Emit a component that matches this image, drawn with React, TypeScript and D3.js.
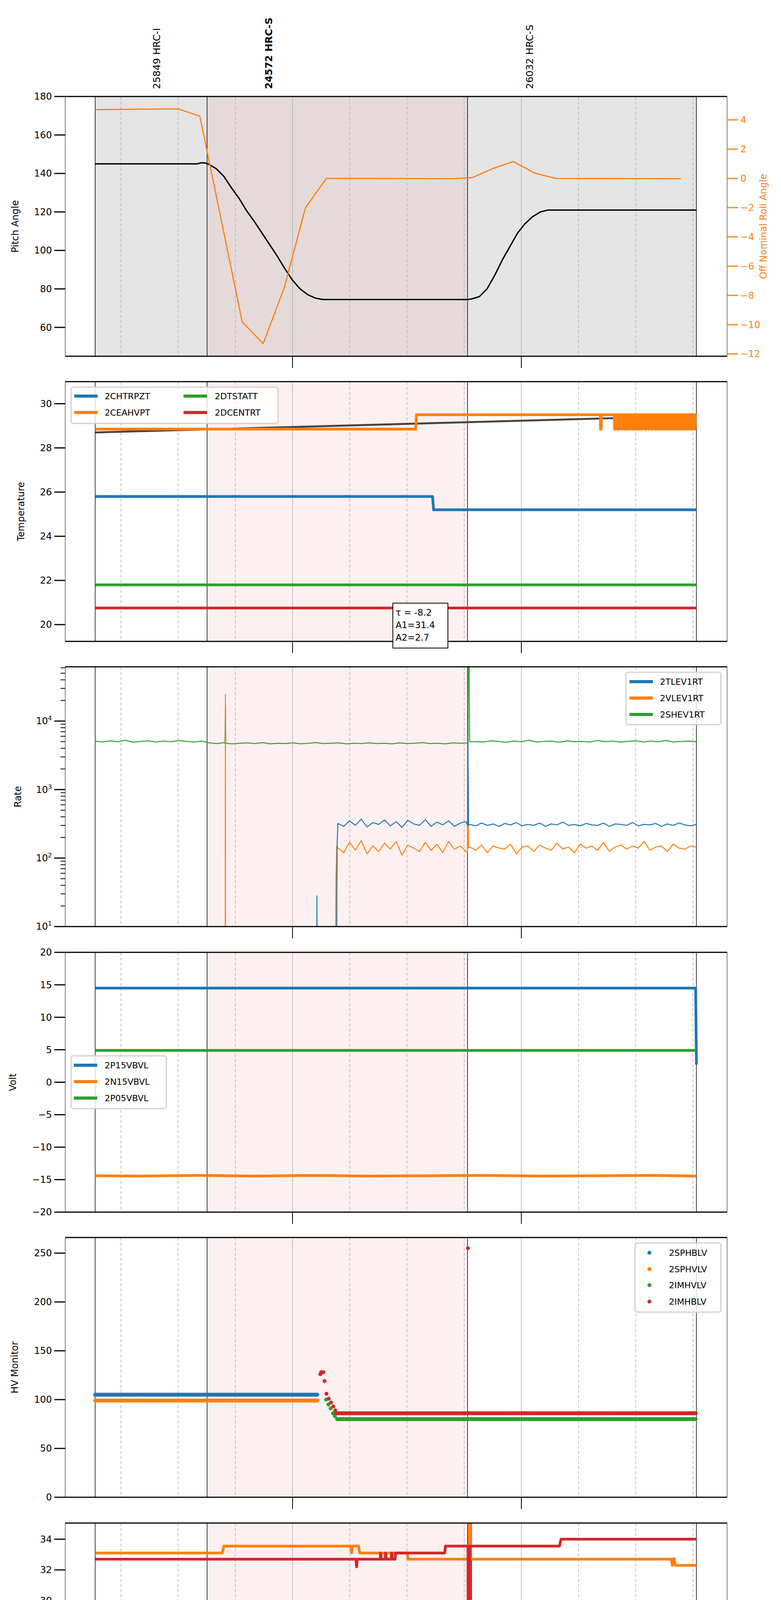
import React, { useEffect } from "react";
import * as d3 from "d3";

// time in minutes after 21:00 on 2021-12-08
const T_START = 8.25, T_SH0 = 37.6, T_SH1 = 105.9, T_END = 165.9;
const obsLabels = [
  { t: 24.4, text: "25849 HRC-I", bold: false },
  { t: 53.75, text: "24572 HRC-S", bold: true },
  { t: 122.1, text: "26032 HRC-S", bold: false },
];

// Panel 1
const pitch: [number, number][] = [[8.25,145],[35,145],[36,145.5],[37,145.5],[38,144.8],[40,142.5],[42,138.5],[44,132.5],[46,127],[48,120.5],[50,115],[52,109],[54,103],[56,97],[58,90.5],[60,84.5],[62,80],[64,77],[66,75.2],[68,74.5],[106,74.5],[107,74.8],[109,76],[111,80],[113,87],[115,95],[117,102],[119,109],[121,114],[123,117.6],[125,120],[127,121],[165.9,121]];
const roll: [number, number][] = [[8.3,4.7],[30.1,4.75],[35.7,4.25],[46.8,-9.8],[52.3,-11.3],[57.8,-7.5],[63.4,-2.0],[68.9,0],[74.8,0],[101.5,-0.02],[107.1,0.05],[112.8,0.7],[117.9,1.15],[123.6,0.35],[129,0],[161.8,-0.02]];

// Panel 2
const tempBlue: [number, number][] = [[8.25,25.8],[96.7,25.8],[97.0,25.2],[165.9,25.2]];
const tempGreen: [number, number][] = [[8.25,21.8],[165.9,21.8]];
const tempRed: [number, number][] = [[8.25,20.75],[165.9,20.75]];
const tempGray: [number, number][] = [[8.25,28.7],[165.9,29.45]];
const tempOrangeBase: [number, number][] = [[8.25,28.85],[92.3,28.85],[92.5,29.5]];
const tempOrangeDips: [number, number][] = [[140.7,141.0],[144.4,144.8],[145.3,145.6],[146.1,146.4],[147.0,147.5],[148.0,148.3],[148.9,149.4],[149.8,150.1],[150.6,151.0],[151.4,151.7],[152.3,152.8],[153.3,153.6],[154.1,154.4],[155.0,155.4],[155.9,156.2],[156.7,157.1],[157.6,157.9],[158.4,158.8],[159.3,159.6],[160.1,160.5],[161.0,161.3],[161.8,162.2],[162.7,163.0],[163.5,163.9],[164.4,164.7],[165.2,165.6]];

// Panel 3 (rate)
const rateGreenVals = [5100,4950,5150,5000,5250,4900,5050,5150,4950,5100,5000,5200,5050,4950,5100,
  4800,4700,4850,4650,4750,4800,4700,4850,4650,4750,4700,4800,4650,4750,4850,4700,4750,4800,4650,4750,4700,4800,4700,4750,4650,4800,4700,4750,4850,4700,4750,4650,4800,4750,
  5100,5000,4950,5150,5050,4900,5100,5000,5250,4950,5050,5100,4900,5150,5000,5050,4950,5200,5000,5100,4950,5050,5150,4950,5100,5000,5200,4950,5050,5100,5000];
const rateGreenSpikes: [number, number][] = [[42.3,4750],[42.4,17000],[42.5,4750],[105.95,4800],[106.05,70000],[106.3,70000],[106.45,5000]];
const rateBlueBefore = [320,290,350,300,370,285,330,310,360,295,340,280,355,315,300,365,290,335,305,350,290,325,340];
const rateBlueAfter = [310,295,325,300,315,290,320,305,330,295,310,300,325,290,315,305,335,300,310,295,320,305,300,325,290,315,310,300,330,295,310,305,320,290,315,300,325,305,295,310];
const rateOrangeBefore = [140,120,170,130,180,115,150,125,165,135,175,110,155,140,125,170,130,160,120,175,135,150,125];
const rateOrangeAfter = [145,130,155,120,150,140,135,160,115,145,150,125,155,140,130,165,135,145,120,160,140,150,130,170,125,145,155,135,150,140,175,130,145,150,125,160,140,135,150,145];

// Panel 4 (volt)
const voltBlue: [number, number][] = [[8.25,14.5],[165.7,14.5],[165.9,2.7]];
const voltGreen: [number, number][] = [[8.25,4.9],[165.9,4.9]];
const voltOrange: [number, number][] = [[8.25,-14.4],[20,-14.45],[35,-14.35],[50,-14.45],[65,-14.35],[80,-14.45],[95,-14.4],[110,-14.35],[125,-14.45],[140,-14.4],[155,-14.35],[165.9,-14.45]];

// Panel 5 (HV monitor, scatter)
const hvBlueSeg: [number, number, number][] = [[8.25,66.7,105]];
const hvOrangeSeg: [number, number, number][] = [[8.25,66.7,99]];
const hvGreenSeg: [number, number, number][] = [[71.7,165.9,80]];
const hvRedSeg: [number, number, number][] = [[71.5,165.9,86]];
const hvGreenPts: [number, number][] = [[68.8,100],[69.4,95],[70.0,91],[70.6,86],[71.1,83]];
const hvRedPts: [number, number][] = [[67.3,126],[67.5,128],[67.8,128],[68.1,128],[68.4,119],[68.9,106],[69.5,101],[70.1,97],[70.7,93],[71.2,89],[106,255]];

// Panel 6 (detector temp)
const detBlue: [number, number][] = [[8.25,19.6],[106.5,19.6],[106.6,36],[106.7,36],[106.8,19.6],[165.9,19.6]];
const detOrange: [number, number][] = [[8.25,33.1],[41.6,33.1],[42.0,33.55],[75.3,33.55],[75.5,33.1],[75.7,33.55],[77.3,33.55],[77.6,33.1],[90.0,33.1],[90.3,32.7],[106.3,32.7],[106.4,36],[106.6,36],[106.7,32.7],[159.3,32.7],[159.6,32.3],[160.0,32.75],[160.4,32.3],[165.9,32.3]];
const detRed: [number, number][] = [[8.25,32.7],[76.6,32.7],[76.8,32.2],[77.0,32.7],[83.0,32.7],[83.1,33.1],[83.3,32.7],[84.3,32.7],[84.4,33.1],[84.6,32.7],[85.8,32.7],[86.0,33.1],[86.2,32.7],[86.9,32.7],[87.0,33.1],[99.9,33.1],[100.1,33.55],[106.0,33.55],[106.1,17],[106.4,17],[106.5,33.55],[130.0,33.55],[130.4,34.0],[165.9,34.0]];
const detGreen: [number, number][] = [[8.25,21.0],[97.4,21.0],[97.5,21.75],[97.7,21.0],[99.4,21.0],[99.6,21.75],[100.0,21.75],[100.1,21.0],[100.3,21.75],[100.6,21.0],[100.9,21.75],[101.2,21.0],[101.5,21.75],[101.8,21.0],[102.1,21.75],[102.4,21.0],[102.7,21.75],[103.0,21.0],[103.3,21.75],[103.6,21.0],[103.9,21.75],[104.2,21.0],[104.5,21.75],[105.8,21.75],[106.0,21.0],[106.4,17],[106.6,17],[106.8,21.75],[108.0,21.75],[108.3,21.0],[108.6,21.75],[130.0,21.75],[130.3,21.0],[130.6,21.75],[131.2,21.75],[131.5,21.0],[132.2,21.0],[132.5,21.75],[133.0,21.0],[134.0,21.0],[134.3,21.75],[134.6,21.0],[135.3,21.0],[135.6,21.75],[135.9,21.0],[139.3,21.0],[139.6,21.75],[140.0,21.0],[165.9,21.0]];

// Panel 7 (FEA temp)
const feaBlue: [number, number][] = [[8.25,24.6],[110.5,24.6],[110.9,24.05],[165.9,24.05]];
const feaGreen: [number, number][] = [[8.25,26.15],[105.9,26.15],[106.0,23.9],[106.2,28],[106.5,28],[106.6,26.15],[129.2,26.15],[129.6,25.35],[130.0,26.15],[134.8,26.15],[135.2,25.35],[165.9,25.35]];
const feaRed: [number, number][] = [[8.25,23.95],[56.2,23.95],[56.4,24.25],[74.7,24.25],[74.9,23.95],[80.0,23.95],[80.2,23.6],[80.4,23.95],[85.7,23.95],[85.9,24.65],[86.1,23.95],[95.3,23.95],[95.5,24.65],[95.7,23.95],[101.0,23.95],[101.2,23.6],[101.4,23.95],[106.1,23.95],[106.2,17],[106.4,17],[106.5,23.95],[111.8,23.95],[112.2,23.6],[149.8,23.6],[150.1,23.3],[150.4,23.6],[161.4,23.6],[161.7,23.3],[162.0,23.6],[165.9,23.6]];
const feaOrangeSpikes = [8.25,9.3,10.9,12.8,14.2,16.1,17.4,19.4,21.6,29.5,30.8,32.9];
const feaOrangeRest: [number, number][] = [[36.8,19.7],[37.1,20.2],[50.0,20.2],[50.3,20.75],[55.8,20.75],[56.0,21.3],[61.6,21.3],[61.9,20.75],[68.8,20.75],[69.1,20.2],[77.6,20.2],[77.9,19.7],[92.9,19.7],[93.2,19.15],[117.9,19.15],[118.2,18.65],[144.0,18.65],[144.3,19.15],[144.6,18.65],[144.9,19.15],[165.9,19.15]];

const BLUE = "#1f77b4", ORANGE = "#ff7f0e", GREEN = "#2ca02c", RED = "#d62728";
const FONT = "DejaVu Sans";

const X0 = 167, X1 = 1862, H = 665;
const tops = [247, 977, 1707, 2438, 3168, 3899, 4629];
const x = d3.scaleLinear().domain([0.4, 173.95]).range([X0, X1]);
const minorT = [15, 30, 45, 75, 90, 105, 135, 150, 165];
const majorT = [60, 120];

function buildSpread(vals: number[], t0: number, t1: number): [number, number][] {
  return vals.map((v, i) => [t0 + (i * (t1 - t0)) / (vals.length - 1), v]);
}
function sampleSegs(segs: [number, number, number][], step: number): [number, number][] {
  const out: [number, number][] = [];
  segs.forEach(([a, b, v]) => { for (let t = a; t <= b + 1e-9; t += step) out.push([t, v]); });
  return out;
}

function Frame({ i, y, yTicks, fmt, label, labelX, logMinor, top: topBg, children }: any) {
  const top = tops[i], bot = top + H;
  return (
    <g>
      <defs>
        <clipPath id={`clip${i}`}><rect x={X0} y={top} width={X1 - X0} height={H} /></clipPath>
      </defs>
      {topBg}
      {i > 0 && <rect x={x(T_SH0)} y={top} width={x(T_SH1) - x(T_SH0)} height={H} fill="#fdf0f0" />}
      {minorT.map(t => <line key={"m" + t} x1={x(t)} x2={x(t)} y1={top} y2={bot} stroke="#b0b0b0" strokeWidth={1.5} strokeDasharray="8,5" />)}
      {majorT.map(t => <line key={"M" + t} x1={x(t)} x2={x(t)} y1={top} y2={bot} stroke="#b0b0b0" strokeWidth={1.5} />)}
      {[T_START, T_SH0, T_SH1, T_END].map(t => <line key={"v" + t} x1={x(t)} x2={x(t)} y1={top} y2={bot} stroke="#000" strokeWidth={1.5} />)}
      <g clipPath={`url(#clip${i})`}>{children}</g>
      <line x1={X0} x2={X1} y1={top} y2={top} stroke="#000" strokeWidth={3} />
      <line x1={X0} x2={X1} y1={bot} y2={bot} stroke="#000" strokeWidth={3} />
      <line x1={X0} x2={X0} y1={top} y2={bot} stroke="#000" strokeWidth={1} />
      <line x1={X1} x2={X1} y1={top} y2={bot} stroke="#000" strokeWidth={1} />
      {majorT.map(t => <line key={"bt" + t} x1={x(t)} x2={x(t)} y1={bot} y2={bot + 30} stroke="#000" strokeWidth={2} />)}
      {yTicks.map((v: number) => (
        <g key={"yt" + v}>
          <line x1={X0 - 28} x2={X0} y1={y(v)} y2={y(v)} stroke="#000" strokeWidth={3} />
          <text x={X0 - 34} y={y(v)} dy="0.35em" textAnchor="end" fontSize={24} fontFamily={FONT}>{fmt(v)}</text>
        </g>
      ))}
      {logMinor && logMinor.map((v: number) => <line key={"lm" + v} x1={X0 - 12} x2={X0} y1={y(v)} y2={y(v)} stroke="#000" strokeWidth={2} />)}
      <text transform={`translate(${labelX},${top + H / 2}) rotate(-90)`} textAnchor="middle" fontSize={24} fontFamily={FONT}>{label}</text>
    </g>
  );
}

function Legend({ x0, y0, w, h, items, dots }: any) {
  return (
    <g>
      <rect x={x0} y={y0} width={w} height={h} rx={6} fill="#fff" fillOpacity={0.8} stroke="#d0d0d0" strokeWidth={3} />
      {items.map((it: any, k: number) => (
        <g key={k}>
          {dots ? <circle cx={it.lx + 6} cy={it.y} r={5} fill={it.c} />
            : <line x1={it.lx} x2={it.lx + 60} y1={it.y} y2={it.y} stroke={it.c} strokeWidth={8} />}
          <text x={it.tx} y={it.y} dy="0.35em" fontSize={22} fontFamily={FONT}>{it.name}</text>
        </g>
      ))}
    </g>
  );
}

export default function App() {
  useEffect(() => { document.body.style.margin = "0"; }, []);
  const line = (y: any) => d3.line<[number, number]>().x(d => x(d[0])).y(d => y(d[1]));

  const y1 = d3.scaleLinear().domain([45, 180]).range([tops[0] + H, tops[0]]);
  const y1r = d3.scaleLinear().domain([-12.16, 5.6]).range([tops[0] + H, tops[0]]);
  const y2 = d3.scaleLinear().domain([19.24, 31.0]).range([tops[1] + H, tops[1]]);
  const tempOrange: [number, number][] = [...tempOrangeBase];
  tempOrangeDips.forEach(([a, b]) => { tempOrange.push([a, 29.5], [a + 0.05, 28.85], [b - 0.05, 28.85], [b, 29.5]); });
  tempOrange.push([165.9, 29.5]);
  const y3 = d3.scaleLog().domain([10, 62000]).range([tops[2] + H, tops[2]]);
  const rGreen = [...buildSpread(rateGreenVals, T_START, T_END), ...rateGreenSpikes].sort((a, b) => a[0] - b[0]);
  const rBlue: [number, number][] = [[66.35, 1], [66.4, 28], [66.45, 1], [71.5, 1], [71.7, 160],
    ...buildSpread(rateBlueBefore, 71.9, 105.5), [105.9, 300], [106.0, 5000], [106.15, 300], ...buildSpread(rateBlueAfter, 106.5, T_END)];
  const rOrange: [number, number][] = [[42.35, 1], [42.4, 24500], [42.45, 1], [71.2, 1], [71.4, 50], [71.6, 150],
    ...buildSpread(rateOrangeBefore, 71.9, 105.5), [105.85, 120], [106.0, 5000], [106.15, 140], ...buildSpread(rateOrangeAfter, 106.5, T_END)];
  const logMinor: number[] = [];
  [10, 100, 1000, 10000].forEach(d => { for (let k = 2; k <= 9; k++) if (d * k < 62000) logMinor.push(d * k); });
  const y4 = d3.scaleLinear().domain([-20, 20]).range([tops[3] + H, tops[3]]);
  const y5 = d3.scaleLinear().domain([0, 266]).range([tops[4] + H, tops[4]]);
  const hvB = sampleSegs(hvBlueSeg, 0.25), hvO = sampleSegs(hvOrangeSeg, 0.25);
  const hvG = [...hvGreenPts, ...sampleSegs(hvGreenSeg, 0.25)];
  const hvR = [...hvRedPts, ...sampleSegs(hvRedSeg, 0.25)];
  const y6 = d3.scaleLinear().domain([18.14, 35.05]).range([tops[5] + H, tops[5]]);
  const y7 = d3.scaleLinear().domain([17.67, 27.66]).range([tops[6] + H, tops[6]]);
  const feaOrange: [number, number][] = [];
  feaOrangeSpikes.forEach(t => feaOrange.push([t, 19.7], [t + 0.1, 20.2], [t + 0.25, 20.2], [t + 0.35, 19.7]));
  feaOrange.push(...feaOrangeRest);

  const lw = 7;
  const path = (d: [number, number][], y: any, c: string, w = lw) =>
    <path d={line(y)(d) || ""} fill="none" stroke={c} strokeWidth={w} strokeLinejoin="round" />;

  const minusFmt = (v: number) => d3.format("d")(v).replace("-", "\u2212");
  const bot = tops[6] + H;

  return (
    <div style={{ width: 2000, height: 5400 }}>
    <svg width={2000} height={5400} style={{ display: "block" }}>
      <rect width={2000} height={5400} fill="#fff" />
      {obsLabels.map(o => (
        <text key={o.text} transform={`translate(${x(o.t) + 9},228) rotate(-90)`} fontSize={25} fontFamily={FONT}
          fontWeight={o.bold ? "bold" : "normal"}>{o.text}</text>
      ))}

      <Frame i={0} y={y1} yTicks={[60, 80, 100, 120, 140, 160, 180]} fmt={(v: number) => String(v)} label="Pitch Angle" labelX={47}
        top={<g>
          <rect x={x(T_START)} y={tops[0]} width={x(T_END) - x(T_START)} height={H} fill="#e5e5e5" />
          <rect x={x(T_SH0)} y={tops[0]} width={x(T_SH1) - x(T_SH0)} height={H} fill="#e5dada" />
        </g>}>
        {path(pitch, y1, "#000", 3.5)}
        {path(roll, y1r, ORANGE, 3)}
      </Frame>
      {d3.range(-12, 5, 2).map(v => (
        <g key={"r" + v}>
          <line x1={X1} x2={X1 + 28} y1={y1r(v)} y2={y1r(v)} stroke={ORANGE} strokeWidth={3} />
          <text x={X1 + 34} y={y1r(v)} dy="0.35em" fontSize={24} fontFamily={FONT} fill={ORANGE}>{minusFmt(v)}</text>
        </g>
      ))}
      <text transform={`translate(1963,${tops[0] + H / 2}) rotate(-90)`} textAnchor="middle" fontSize={24} fontFamily={FONT} fill={ORANGE}>Off Nominal Roll Angle</text>

      <Frame i={1} y={y2} yTicks={[20, 22, 24, 26, 28, 30]} fmt={(v: number) => String(v)} label="Temperature" labelX={62}>
        {path(tempGray, y2, "#444", 5)}
        {path(tempBlue, y2, BLUE)}
        {path(tempOrange, y2, ORANGE)}
        {path(tempGreen, y2, GREEN)}
        {path(tempRed, y2, RED)}
      </Frame>
      <Legend x0={182} y0={991} w={530} h={93} items={[
        { c: BLUE, name: "2CHTRPZT", lx: 190, tx: 268, y: 1014 },
        { c: ORANGE, name: "2CEAHVPT", lx: 190, tx: 268, y: 1056 },
        { c: GREEN, name: "2DTSTATT", lx: 470, tx: 550, y: 1014 },
        { c: RED, name: "2DCENTRT", lx: 470, tx: 550, y: 1056 },
      ]} />
      <rect x={1006} y={1544} width={141} height={115} fill="#fff" stroke="#000" strokeWidth={2} />
      {["\u03c4 = -8.2", "A1=31.4", "A2=2.7"].map((s, k) => (
        <text key={s} x={1013} y={1568 + k * 32} dy="0.35em" fontSize={23} fontFamily={FONT}>{s}</text>
      ))}

      <Frame i={2} y={y3} yTicks={[10, 100, 1000, 10000]} fmt={() => ""} label="Rate" labelX={54} logMinor={logMinor}>
        {path(rGreen, y3, GREEN, 2.5)}
        {path(rOrange, y3, ORANGE, 2.5)}
        {path(rBlue, y3, BLUE, 2.5)}
      </Frame>
      {[1, 2, 3, 4].map(e => (
        <text key={"e" + e} x={X0 - 34} y={y3(Math.pow(10, e))} dy="0.35em" textAnchor="end" fontSize={24} fontFamily={FONT}>
          10<tspan dy="-10" fontSize={16}>{e}</tspan>
        </text>
      ))}
      <Legend x0={1603} y0={1721} w={243} h={134} items={[
        { c: BLUE, name: "2TLEV1RT", lx: 1612, tx: 1690, y: 1745 },
        { c: ORANGE, name: "2VLEV1RT", lx: 1612, tx: 1690, y: 1787 },
        { c: GREEN, name: "2SHEV1RT", lx: 1612, tx: 1690, y: 1829 },
      ]} />

      <Frame i={3} y={y4} yTicks={[-20, -15, -10, -5, 0, 5, 10, 15, 20]} fmt={minusFmt} label="Volt" labelX={41}>
        {path(voltBlue, y4, BLUE)}
        {path(voltOrange, y4, ORANGE)}
        {path(voltGreen, y4, GREEN)}
      </Frame>
      <Legend x0={182} y0={2703} w={244} h={135} items={[
        { c: BLUE, name: "2P15VBVL", lx: 189, tx: 268, y: 2727 },
        { c: ORANGE, name: "2N15VBVL", lx: 189, tx: 268, y: 2769 },
        { c: GREEN, name: "2P05VBVL", lx: 189, tx: 268, y: 2811 },
      ]} />

      <Frame i={4} y={y5} yTicks={[0, 50, 100, 150, 200, 250]} fmt={(v: number) => String(v)} label="HV Monitor" labelX={46}>
        {hvB.map((d, k) => <circle key={"b" + k} cx={x(d[0])} cy={y5(d[1])} r={5} fill={BLUE} />)}
        {hvO.map((d, k) => <circle key={"o" + k} cx={x(d[0])} cy={y5(d[1])} r={5} fill={ORANGE} />)}
        {hvG.map((d, k) => <circle key={"g" + k} cx={x(d[0])} cy={y5(d[1])} r={5} fill={GREEN} />)}
        {hvR.map((d, k) => <circle key={"r" + k} cx={x(d[0])} cy={y5(d[1])} r={5} fill={RED} />)}
      </Frame>
      <Legend dots x0={1626} y0={3182} w={220} h={177} items={[
        { c: BLUE, name: "2SPHBLV", lx: 1657, tx: 1713, y: 3207 },
        { c: ORANGE, name: "2SPHVLV", lx: 1657, tx: 1713, y: 3249 },
        { c: GREEN, name: "2IMHVLV", lx: 1657, tx: 1713, y: 3290 },
        { c: RED, name: "2IMHBLV", lx: 1657, tx: 1713, y: 3332 },
      ]} />

      <Frame i={5} y={y6} yTicks={[20, 22, 24, 26, 28, 30, 32, 34]} fmt={(v: number) => String(v)} label="Detector Temp" labelX={64}>
        {path(detBlue, y6, BLUE)}
        {path(detOrange, y6, ORANGE)}
        {path(detGreen, y6, GREEN)}
        {path(detRed, y6, RED)}
      </Frame>
      <Legend x0={1600} y0={4143} w={246} h={177} items={[
        { c: BLUE, name: "2SPINATM", lx: 1607, tx: 1688, y: 4166 },
        { c: ORANGE, name: "2SPHVATM", lx: 1607, tx: 1688, y: 4208 },
        { c: GREEN, name: "2IMINATM", lx: 1607, tx: 1688, y: 4251 },
        { c: RED, name: "2IMHVATM", lx: 1607, tx: 1688, y: 4293 },
      ]} />

      <Frame i={6} y={y7} yTicks={[18, 20, 22, 24, 26]} fmt={(v: number) => String(v)} label="FEA Temp" labelX={64}>
        {path(feaBlue, y7, BLUE)}
        {path(feaOrange, y7, ORANGE)}
        {path(feaGreen, y7, GREEN)}
        {path(feaRed, y7, RED)}
      </Frame>
      <Legend x0={1597} y0={4644} w={249} h={177} items={[
        { c: BLUE, name: "2FHTRMZT", lx: 1603, tx: 1685, y: 4666 },
        { c: ORANGE, name: "2FRADPYT", lx: 1603, tx: 1685, y: 4708 },
        { c: GREEN, name: "2FEPRATM", lx: 1603, tx: 1685, y: 4750 },
        { c: RED, name: "2FE00ATM", lx: 1603, tx: 1685, y: 4793 },
      ]} />

      {minorT.map(t => (
        <g key={"xl" + t}>
          <line x1={x(t)} x2={x(t)} y1={bot} y2={bot + 10} stroke="#000" strokeWidth={1.5} />
          <text x={x(t)} y={bot + 30} textAnchor="middle" fontSize={16} fontFamily={FONT}>{String(t % 60)}</text>
        </g>
      ))}
      {majorT.map(t => (
        <text key={"xM" + t} x={x(t)} y={bot + 59} textAnchor="middle" fontSize={25} fontFamily={FONT}>{`${21 + t / 60}h`}</text>
      ))}
      <text x={(X0 + X1) / 2} y={bot + 98} textAnchor="middle" fontSize={27} fontFamily={FONT}>2021-12-08 (342)</text>
    </svg>
    </div>
  );
}
